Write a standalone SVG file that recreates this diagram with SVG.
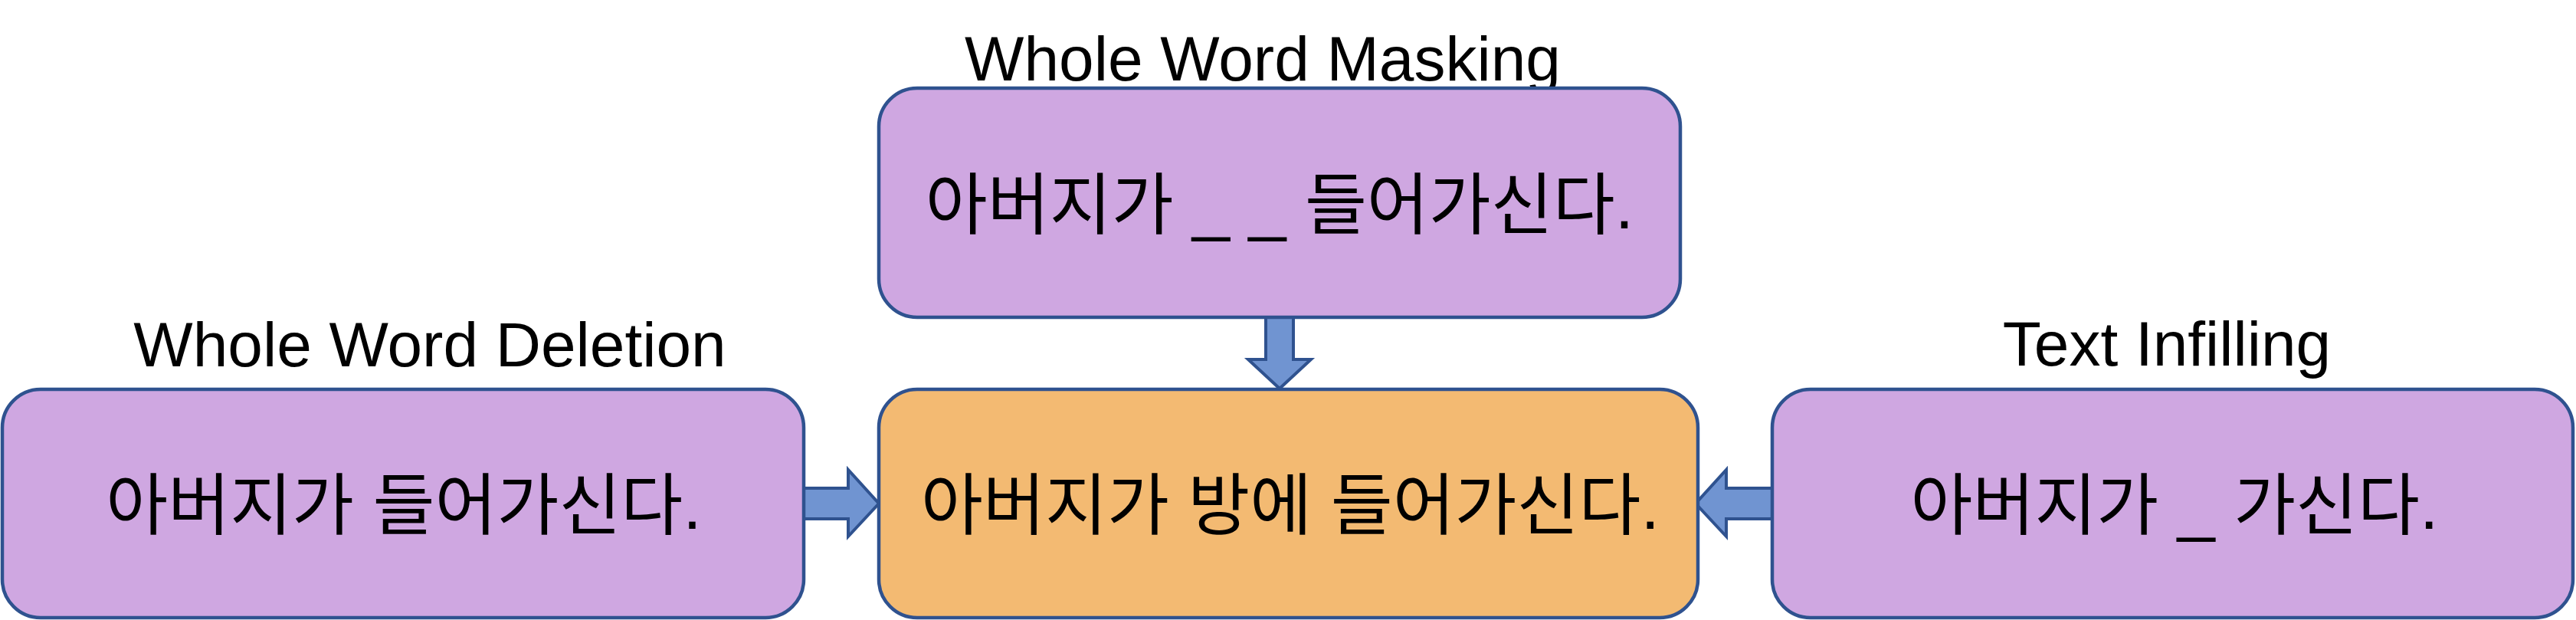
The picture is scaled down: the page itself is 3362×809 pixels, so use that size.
<svg xmlns="http://www.w3.org/2000/svg" width="3362" height="809" viewBox="0 0 3362 809">
<style>
.box{stroke:#2F528F;stroke-width:4.5}
.purple{fill:#CFA7E1}
.orange{fill:#F3BA72}
.arrow{fill:#7094D1;stroke:#2F528F;stroke-width:4;stroke-linejoin:miter}
.title{font-family:"Liberation Sans",Arial,sans-serif;font-size:82px;fill:#000;text-anchor:middle}
.ko{font-family:"Liberation Sans","Noto Sans CJK KR",sans-serif;font-size:88px;fill:#000;text-anchor:middle}
</style>
<rect width="3362" height="809" fill="#FFFFFF"/>
<g id="connectors">
<polygon class="arrow" points="1652,410 1688,410 1688,469 1711,469 1670,507 1629,469 1652,469"/>
<polygon class="arrow" points="1049,637 1107,637 1107,613 1147,657 1107,700 1107,677 1049,677"/>
<polygon class="arrow" points="2315,637 2253,637 2253,613 2213,657 2253,700 2253,677 2315,677"/>
</g>
<g id="masking">
<text class="title" x="1648" y="105">Whole Word Masking</text>
<rect class="box purple" x="1147" y="115" width="1046" height="299" rx="50" ry="50"/>
<text class="ko" x="1670" y="298">아버지가 _ _ 들어가신다.</text>
</g>
<g id="deletion">
<text class="title" x="561" y="478">Whole Word Deletion</text>
<rect class="box purple" x="3" y="508" width="1046" height="298" rx="50" ry="50"/>
<text class="ko" x="527" y="690">아버지가 들어가신다.</text>
</g>
<g id="original">
<rect class="box orange" x="1147" y="508" width="1069" height="298" rx="50" ry="50"/>
<text class="ko" x="1684" y="690">아버지가 방에 들어가신다.</text>
</g>
<g id="infilling">
<text class="title" x="2828" y="477">Text Infilling</text>
<rect class="box purple" x="2313" y="508" width="1045" height="298" rx="50" ry="50"/>
<text class="ko" x="2838" y="690">아버지가 _ 가신다.</text>
</g>
</svg>
